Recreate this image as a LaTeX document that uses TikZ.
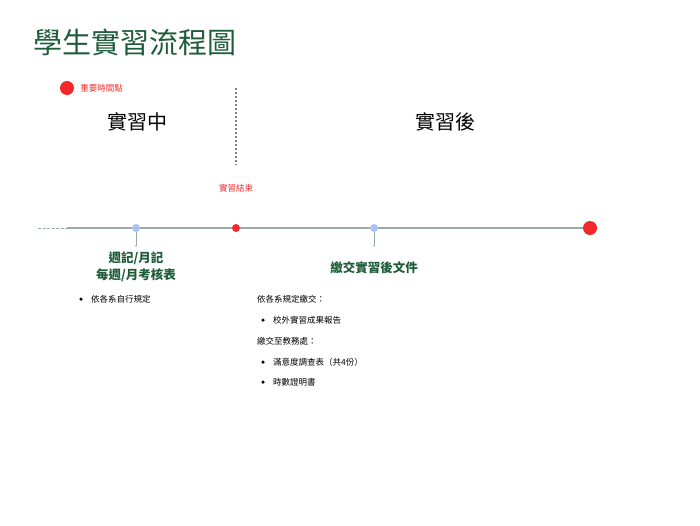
\documentclass[tikz,border=0pt]{standalone}
\usepackage{fontspec}
\newfontfamily\cjk{Noto Sans CJK TC}
\usetikzlibrary{arrows.meta, positioning, calc}
\definecolor{titlegreen}{HTML}{1E5C3A}
\definecolor{linegray}{HTML}{9AABA4}
\definecolor{dotblue}{HTML}{A9C2F5}
\definecolor{dotred}{HTML}{F2282B}
\begin{document}
\begin{tikzpicture}[x=1pt, y=-1pt,
        every node/.style={font=\cjk},
        phase/.style={font=\cjk\fontsize{20}{24}\selectfont},
        event/.style={font=\cjk\bfseries\fontsize{12.5}{17}\selectfont, text=titlegreen, align=center},
        note/.style={font=\cjk\fontsize{8.5}{10}\selectfont, anchor=west, inner sep=0pt},
        bullet/.style={circle, fill=black, inner sep=0pt, minimum size=3.5pt},
        tick/.style={draw=linegray, -{Stealth[length=2pt]}}
    ]
    \useasboundingbox (0,0) rectangle (700,525);

    % Title and legend
    \node[anchor=west, text=titlegreen, font=\cjk\fontsize{29}{32}\selectfont, inner sep=0pt] (title) at (33,42) {學生實習流程圖};
    \node[circle, fill=dotred, inner sep=0pt, minimum size=14pt] (legend) at (67,88) {};
    \node[note, text=dotred, right=6pt of legend] (legendtext) {重要時間點};

    % Phases
    \node[phase] (during) at (137,122) {實習中};
    \node[phase] (after) at (445,122) {實習後};
    \coordinate (divtop) at (236,88);
    \coordinate (divbot) at (236,165);
    \draw[gray, line width=2.2pt, dash pattern=on 2pt off 2pt] (divtop) -- (divbot);
    \node[text=dotred, font=\cjk\fontsize{8.5}{10}\selectfont] (endlabel) at (236,188) {實習結束};

    % Timeline
    \coordinate (start) at (38,228);
    \coordinate (dashend) at (67,228);
    \draw[linegray, line width=1pt, dash pattern=on 3pt off 1.5pt] (start) -- (dashend);
    \node[circle, fill=dotblue, inner sep=0pt, minimum size=8pt] (weekly) at (136,228) {};
    \node[circle, fill=dotred, inner sep=0pt, minimum size=8pt] (finish) at (236,228) {};
    \node[circle, fill=dotblue, inner sep=0pt, minimum size=8pt] (submit) at (374,228) {};
    \node[circle, fill=dotred, inner sep=0pt, minimum size=14pt] (final) at (590,228) {};
    \draw[linegray, line width=1.2pt] (dashend) -- (weekly) -- (finish) -- (submit) -- (final);

    % Events
    \coordinate (weeklytip) at (136,247);
    \coordinate (submittip) at (374,247);
    \draw[tick] (weekly) -- (weeklytip);
    \draw[tick] (submit) -- (submittip);
    \node[event] (weeklytext) at (136,267) {週記/月記\\每週/月考核表};
    \node[event] (submittext) at (374,268) {繳交實習後文件};

    % Notes
    \node[bullet] (b1) at (81,299) {};
    \node[note, right=8pt of b1] (n1) {依各系自行規定};
    \node[note] (n2) at (257,299) {依各系規定繳交：};
    \node[bullet] (b2) at (263,320) {};
    \node[note, right=8pt of b2] (n3) {校外實習成果報告};
    \node[note] (n4) at (257,341) {繳交至教務處：};
    \node[bullet] (b3) at (263,362) {};
    \node[note, right=8pt of b3] (n5) {滿意度調查表（共4份）};
    \node[bullet] (b4) at (263,382) {};
    \node[note, right=8pt of b4] (n6) {時數證明書};

\end{tikzpicture}
\end{document}
